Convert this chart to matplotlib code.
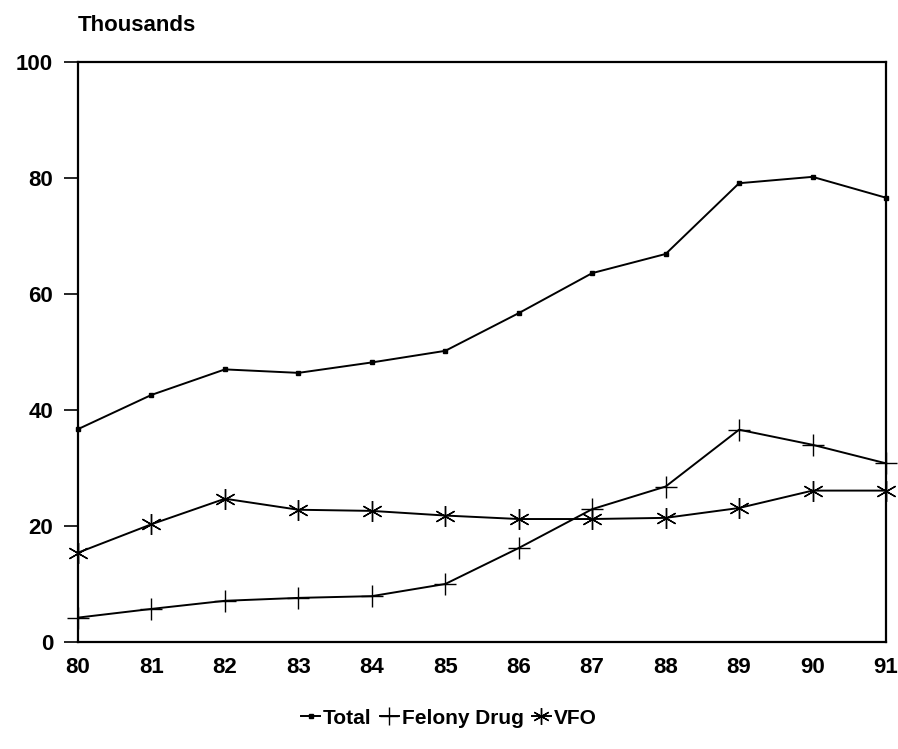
import numpy as np
import matplotlib.pyplot as plt

years = ["80", "81", "82", "83", "84", "85", "86", "87", "88", "89", "90", "91"]
total = [36.7, 42.6, 47.0, 46.4, 48.2, 50.2, 56.7, 63.6, 66.9, 79.1, 80.2, 76.6]
felony_drug = [4.2, 5.7, 7.1, 7.6, 7.9, 10.0, 16.2, 22.9, 26.8, 36.6, 34.0, 30.8]
vfo = [15.4, 20.3, 24.7, 22.8, 22.6, 21.8, 21.2, 21.2, 21.4, 23.1, 26.1, 26.1]
y_ticks = [0, 20, 40, 60, 80, 100]

plt.rcParams["font.family"] = ["Liberation Sans", "DejaVu Sans"]
plt.rcParams["font.weight"] = "bold"

fig = plt.figure(figsize=(8.98, 7.49), dpi=100)
ax = fig.add_axes([0.0869, 0.1429, 0.9866 - 0.0869, 0.9172 - 0.1429])

x = np.arange(len(years))
ax.plot(x, total, color="black", lw=1.4, marker="s", ms=3.5, label="Total", clip_on=False)
ax.plot(x, felony_drug, color="black", lw=1.4, marker="+", ms=16, mew=1.0,
        label="Felony Drug", clip_on=False)
ax.plot(x, vfo, color="black", lw=1.4, marker=(6, 2, 0), ms=15, mew=1.0,
        label="VFO", clip_on=False)

ax.set_xlim(0, len(years) - 1)
ax.set_ylim(0, 100)
ax.set_xticks(x)
ax.set_xticklabels(years)
ax.set_yticks(y_ticks)
ax.tick_params(axis="x", length=0, pad=11, labelsize=16)
ax.tick_params(axis="y", length=10, width=1.2, pad=8, labelsize=16)
for s in ax.spines.values():
    s.set_linewidth(1.6)

fig.text(0.0869, 0.966, "Thousands", fontsize=16, fontweight="bold", ha="left", va="center")

fig.legend(loc="center", bbox_to_anchor=(0.5, 0.041), ncol=3, frameon=False,
           fontsize=15, handlelength=0.9, handletextpad=0.15, columnspacing=0.4,
           markerscale=0.8)

fig.savefig("out.png", dpi=100)
